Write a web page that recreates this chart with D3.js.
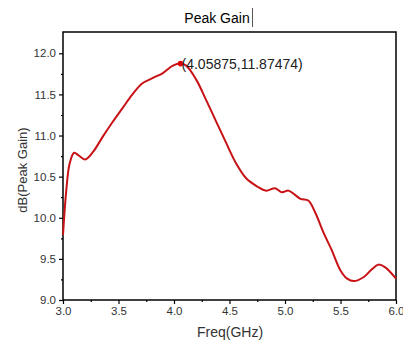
<!DOCTYPE html>
<html>
<head>
<meta charset="utf-8">
<script src="https://cdn.jsdelivr.net/npm/d3@7"></script>
<style>
  body { margin: 0; background: #fff; }
  text { font-family: "Liberation Sans", Arial, sans-serif; }
</style>
</head>
<body>
<svg id="chart" width="403" height="343"></svg>
<script>
const freq = [3.00, 3.03, 3.06, 3.10, 3.14, 3.20, 3.27, 3.36, 3.45, 3.54, 3.62, 3.71,
  3.81, 3.90, 3.99, 4.05875, 4.11, 4.20, 4.29, 4.38, 4.47, 4.56, 4.65, 4.75, 4.83,
  4.91, 4.97, 5.03, 5.07, 5.14, 5.21, 5.27, 5.35, 5.42, 5.50, 5.56, 5.62, 5.71,
  5.78, 5.84, 5.90, 6.00];
const gain = [9.79, 10.34, 10.66, 10.79, 10.76, 10.71, 10.80, 10.99, 11.17, 11.34, 11.49, 11.63,
  11.70, 11.76, 11.85, 11.87474, 11.85, 11.68, 11.43, 11.17, 10.91, 10.66, 10.48, 10.38, 10.33,
  10.36, 10.31, 10.33, 10.30, 10.23, 10.21, 10.07, 9.81, 9.61, 9.36, 9.26, 9.23, 9.28,
  9.37, 9.43, 9.40, 9.26];
const peak = [4.05875, 11.87474];
const xTicks = [3.0, 3.5, 4.0, 4.5, 5.0, 5.5, 6.0];
const yTicks = [9.0, 9.5, 10.0, 10.5, 11.0, 11.5, 12.0];

const svg = d3.select('#chart');
const plotL = 63, plotR = 396, plotT = 32, plotB = 300;

const x = d3.scaleLinear().domain([3, 6]).range([plotL, plotR]);
const y = d3.scaleLinear().domain([9, 12]).range([plotB, 53.3]);

// frame
svg.append('rect')
  .attr('x', plotL).attr('y', plotT)
  .attr('width', plotR - plotL).attr('height', plotB - plotT)
  .attr('fill', 'none').attr('stroke', '#000').attr('stroke-width', 1.5);

// x axis
const xAxis = svg.append('g').attr('transform', `translate(0,${plotB})`);
xAxis.call(d3.axisBottom(x).tickValues(xTicks).tickFormat(d3.format('.1f')).tickSize(4).tickSizeOuter(0));
svg.append('g').attr('transform', `translate(0,${plotB})`)
  .call(d3.axisBottom(x).tickValues(d3.range(3.25, 6, 0.5)).tickFormat('').tickSize(2).tickSizeOuter(0));

// y axis
const yAxis = svg.append('g').attr('transform', `translate(${plotL},0)`);
yAxis.call(d3.axisLeft(y).tickValues(yTicks).tickFormat(d3.format('.1f')).tickSize(4).tickSizeOuter(0));
svg.append('g').attr('transform', `translate(${plotL},0)`)
  .call(d3.axisLeft(y).tickValues(d3.range(9.25, 12.1, 0.5)).tickFormat('').tickSize(2).tickSizeOuter(0));

svg.selectAll('.domain').remove();
svg.selectAll('.tick line').attr('stroke', '#000').attr('stroke-width', 1.2);
svg.selectAll('.tick text').attr('font-size', 11.5).attr('fill', '#333')
  .style('font-family', '"Liberation Sans", Arial, sans-serif');

// curve
const line = d3.line()
  .x((d, i) => x(freq[i]))
  .y(d => y(d))
  .curve(d3.curveCatmullRom.alpha(0.5));

svg.append('path')
  .attr('d', line(gain))
  .attr('fill', 'none')
  .attr('stroke', '#c81216')
  .attr('stroke-width', 2);

// peak marker
svg.append('circle')
  .attr('cx', x(peak[0])).attr('cy', y(peak[1]))
  .attr('r', 2.8).attr('fill', '#d00');
svg.append('text')
  .attr('x', x(peak[0]) + 1).attr('y', y(peak[1]) + 5)
  .attr('font-size', 14).attr('fill', '#222')
  .text(`(${peak[0]},${peak[1]})`);

// titles
svg.append('text')
  .attr('x', 217).attr('y', 23)
  .attr('text-anchor', 'middle').attr('font-size', 14)
  .text('Peak Gain');
svg.append('line')
  .attr('x1', 252.5).attr('x2', 252.5).attr('y1', 8).attr('y2', 27)
  .attr('stroke', '#555').attr('stroke-width', 1);

svg.append('text')
  .attr('x', 230).attr('y', 337)
  .attr('text-anchor', 'middle').attr('font-size', 14).attr('fill', '#333')
  .text('Freq(GHz)');

svg.append('text')
  .attr('transform', 'translate(27,170) rotate(-90)')
  .attr('text-anchor', 'middle').attr('font-size', 13).attr('fill', '#333')
  .text('dB(Peak Gain)');
</script>
</body>
</html>
